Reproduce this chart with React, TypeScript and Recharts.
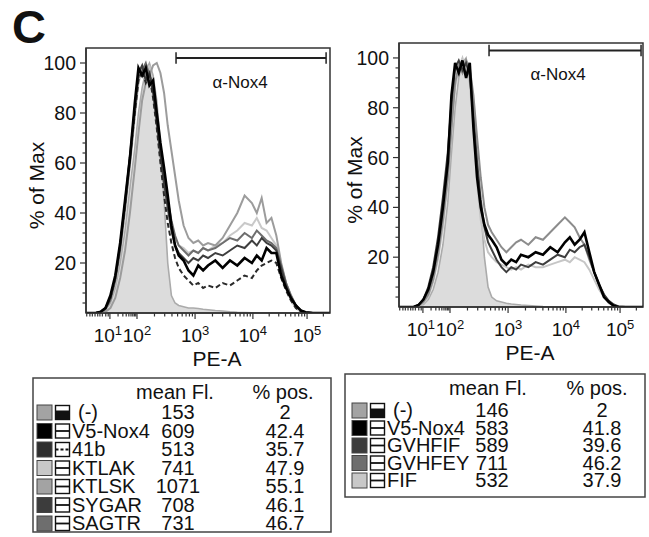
import React from 'react';
import { ComposedChart, Line, Area, XAxis, YAxis, ReferenceLine, ReferenceArea } from 'recharts';

const FONT = '"Liberation Sans", Arial, Helvetica, sans-serif';

// ---------- data ----------
const CHANNELS = [0, 40, 60, 80, 100, 120, 140, 160, 180, 200, 215, 230, 245, 260, 275, 290, 305, 320, 335, 350, 365, 380, 400, 420, 440, 460, 480, 500, 530, 560, 590, 620, 650, 680, 700, 720, 740, 760, 780, 800, 820, 840, 860, 880, 900, 930, 960, 1000];

const LEFT_NEG = [0, 0, 0.5, 1.5, 4, 10, 20, 33, 50, 66, 80, 90, 97, 100, 95, 85, 68, 45, 20, 7, 4, 3, 2.5, 2, 2, 1.8, 1.5, 1.3, 1, 0.8, 0.5, 0.3, 0.2, 0.1, 0, 0, 0, 0, 0, 0, 0, 0, 0, 0, 0, 0, 0, 0];
const LEFT_V5 = [0, 0, 0.5, 2, 7, 15, 28, 45, 62, 84, 98, 95, 98, 91, 93, 80, 68, 58, 47, 35, 27, 23, 21, 17, 15, 19, 17, 19, 21, 18, 21, 19, 22, 20, 23, 21, 26, 24, 24, 15, 10, 6, 3, 1, 0.3, 0, 0, 0];
const LEFT_41B = [0, 0, 0.5, 2, 6, 14, 27, 43, 62, 80, 93, 97, 92, 95, 86, 74, 60, 47, 36, 28, 22, 18, 15, 13, 11, 12, 10, 11, 10, 12, 11, 13, 15, 14, 17, 19, 20, 21, 20, 14, 9, 5, 2, 0.5, 0, 0, 0, 0];
const LEFT_KTLAK = [0, 0, 0.3, 1.5, 5, 12, 24, 40, 58, 78, 92, 97, 94, 99, 90, 78, 65, 55, 44, 36, 30, 27, 26, 24, 25, 24, 26, 25, 27, 28, 31, 33, 36, 35, 38, 34, 33, 30, 27, 18, 10, 5, 2, 0.5, 0, 0, 0, 0];
const LEFT_KTLSK = [0, 0, 0, 0.5, 2, 6, 14, 25, 40, 58, 72, 85, 92, 95, 99, 100, 96, 88, 75, 65, 55, 45, 35, 30, 28, 29, 27, 28, 27, 30, 35, 40, 47, 44, 40, 46, 36, 38, 31, 20, 12, 7, 3, 1, 0.3, 0, 0, 0];
const LEFT_SYGAR = [0, 0, 0.5, 2, 6, 14, 27, 44, 63, 82, 96, 99, 93, 96, 88, 76, 63, 52, 42, 33, 27, 24, 22, 20, 22, 21, 23, 22, 24, 23, 25, 27, 26, 29, 27, 30, 28, 27, 25, 18, 11, 6, 3, 1, 0.2, 0, 0, 0];
const LEFT_SAGTR = [0, 0, 0.3, 1.5, 5, 13, 25, 42, 60, 80, 94, 97, 100, 95, 92, 80, 66, 55, 45, 37, 31, 27, 25, 23, 25, 24, 26, 25, 26, 28, 30, 29, 32, 30, 33, 31, 29, 28, 26, 19, 12, 7, 3, 1, 0.2, 0, 0, 0];

const RIGHT_NEG = [0, 0, 0, 0.5, 1, 3, 7, 14, 25, 42, 62, 80, 92, 98, 100, 92, 78, 60, 40, 20, 8, 4, 2.5, 2, 1.5, 1.2, 1, 0.8, 0.6, 0.4, 0.2, 0.1, 0, 0, 0, 0, 0, 0, 0, 0, 0, 0, 0, 0, 0, 0, 0, 0];
const RIGHT_V5 = [0, 0, 0, 0.8, 3, 7, 14, 25, 40, 58, 85, 98, 94, 99, 92, 98, 72, 52, 40, 33, 29, 27, 24, 19, 17, 19, 18, 21, 20, 22, 21, 24, 22, 26, 28, 25, 27, 30, 22, 14, 9, 4, 2, 0.5, 0, 0, 0, 0];
const RIGHT_GVHFIF = [0, 0, 0, 0.8, 3, 8, 16, 28, 44, 62, 82, 96, 99, 95, 98, 93, 76, 58, 43, 32, 26, 23, 19, 16, 14, 16, 15, 17, 16, 18, 17, 19, 21, 20, 23, 22, 24, 25, 20, 14, 9, 5, 2.5, 1, 0.2, 0, 0, 0];
const RIGHT_GVHFEY = [0, 0, 0, 0.5, 2, 5, 11, 21, 35, 52, 72, 90, 97, 94, 99, 96, 85, 68, 52, 40, 33, 30, 27, 24, 22, 24, 26, 27, 25, 28, 27, 30, 33, 36, 34, 32, 28, 25, 19, 14, 9, 5, 2, 0.5, 0, 0, 0, 0];
const RIGHT_FIF = [0, 0, 0, 0.3, 1.5, 4, 10, 19, 32, 50, 70, 88, 96, 100, 95, 90, 72, 50, 35, 27, 22, 20, 18, 17, 16, 15, 16, 15, 17, 16, 16, 17, 18, 19, 18, 20, 19, 18, 15, 11, 7, 4, 1.5, 0.5, 0, 0, 0, 0];

// axis tick definitions (channel positions of decades on the biexponential scale)
const DECADE_CHANNELS = [98, 209, 447, 684, 906];
const DECADE_LABELS = ['1', '2', '3', '4', '5'];
const LOW_MINOR_CHANNELS = [3, 16, 26, 37, 48, 57, 67, 81, 91];
const Y_MAJOR = [20, 40, 60, 80, 100];
const Y_MINOR = [4, 8, 12, 16, 24, 28, 32, 36, 44, 48, 52, 56, 64, 68, 72, 76, 84, 88, 92, 96];

// gate
const GATE_FROM = 369;
const GATE_TO_LEFT = 984;
const GATE_TO_RIGHT = 992;
const GATE_LEVEL_LEFT = 102;
const GATE_LEVEL_RIGHT = 103;
const GATE_NAME = 'α-Nox4';

// legend tables
const LEFT_NAMES = ['(-)', 'V5-Nox4', '41b', 'KTLAK', 'KTLSK', 'SYGAR', 'SAGTR'];
const LEFT_MEAN = [153, 609, 513, 741, 1071, 708, 731];
const LEFT_POS = [2, 42.4, 35.7, 47.9, 55.1, 46.1, 46.7];
const RIGHT_NAMES = ['(-)', 'V5-Nox4', 'GVHFIF', 'GVHFEY', 'FIF'];
const RIGHT_MEAN = [146, 583, 589, 711, 532];
const RIGHT_POS = [2, 41.8, 39.6, 46.2, 37.9];

// ---------- styles ----------
const DECADE_LABEL_SHIFT = [-2, 0, 0, 0, 0];
const LEFT_SWATCH = ['#a3a3a3', '#000000', '#2e2e2e', '#c8c8c8', '#a3a3a3', '#3c3c3c', '#6e6e6e'];
const LEFT_ICON = ['fill', 'line', 'dash', 'line', 'line', 'line', 'line'];
const RIGHT_SWATCH = ['#a3a3a3', '#000000', '#3c3c3c', '#6e6e6e', '#c8c8c8'];
const RIGHT_ICON = ['fill', 'line', 'line', 'line', 'line'];

const minorX: number[] = [...LOW_MINOR_CHANNELS];
for (let i = 0; i < DECADE_CHANNELS.length; i++) {
  const a = DECADE_CHANNELS[i];
  const span = i < DECADE_CHANNELS.length - 1 ? DECADE_CHANNELS[i + 1] - a : 222;
  for (let k = 2; k <= 9; k++) {
    const p = a + Math.log10(k) * span;
    if (p <= 998) minorX.push(p);
  }
}
const X_TICKS = [...minorX, ...DECADE_CHANNELS].sort((a, b) => a - b);
const Y_TICKS = [...Y_MINOR, ...Y_MAJOR].sort((a, b) => a - b);

const leftData = CHANNELS.map((x, i) => ({
  x,
  neg: LEFT_NEG[i],
  v5: LEFT_V5[i],
  b41: LEFT_41B[i],
  ktlak: LEFT_KTLAK[i],
  ktlsk: LEFT_KTLSK[i],
  sygar: LEFT_SYGAR[i],
  sagtr: LEFT_SAGTR[i],
}));

const rightData = CHANNELS.map((x, i) => ({
  x,
  neg: RIGHT_NEG[i],
  v5: RIGHT_V5[i],
  gvhfif: RIGHT_GVHFIF[i],
  gvhfey: RIGHT_GVHFEY[i],
  fif: RIGHT_FIF[i],
}));

type SeriesDef = { key: string; color: string; width: number; dash?: string };

const LEFT_LINES: SeriesDef[] = [
  { key: 'ktlak', color: '#c9c9c9', width: 2 },
  { key: 'ktlsk', color: '#9c9c9c', width: 2 },
  { key: 'sagtr', color: '#6e6e6e', width: 2 },
  { key: 'sygar', color: '#3e3e3e', width: 2 },
  { key: 'b41', color: '#2a2a2a', width: 2, dash: '5 3' },
  { key: 'v5', color: '#000000', width: 2.6 },
];
const RIGHT_LINES: SeriesDef[] = [
  { key: 'fif', color: '#c6c6c6', width: 2 },
  { key: 'gvhfey', color: '#8c8c8c', width: 2 },
  { key: 'gvhfif', color: '#3e3e3e', width: 2 },
  { key: 'v5', color: '#000000', width: 2.6 },
];

const XTick = (props: any) => {
  const { x, y, payload } = props;
  const idx = DECADE_CHANNELS.indexOf(payload.value);
  const major = idx >= 0;
  return (
    <g>
      <line x1={x} x2={x} y1={y} y2={y + (major ? 6 : 3.5)} stroke="#333" strokeWidth={1.2} />
      {major && (
        <text x={x + DECADE_LABEL_SHIFT[idx]} y={y + 29} textAnchor="middle" fontSize={19} fill="#111" fontFamily={FONT}>
          10<tspan dy={-7} fontSize={13}>{DECADE_LABELS[idx]}</tspan>
        </text>
      )}
    </g>
  );
};

const YTick = (props: any) => {
  const { x, y, payload } = props;
  const major = Y_MAJOR.includes(payload.value);
  return (
    <g>
      <line x1={x} x2={x - (major ? 6 : 3.5)} y1={y} y2={y} stroke="#333" strokeWidth={1.2} />
      {major && (
        <text x={x - 10} y={y + 7} textAnchor="end" fontSize={19.5} fill="#111" fontFamily={FONT}>
          {payload.value}
        </text>
      )}
    </g>
  );
};

const makeYLabel = (dx: number) => (p: any) => {
  const vb = p.viewBox || { x: 0, y: 0, width: 86, height: 265 };
  const cx = vb.x + vb.width - dx;
  const cy = vb.y + vb.height * (1 - 51 / 106);
  return (
    <text x={cx} y={cy} transform={`rotate(-90 ${cx} ${cy})`} textAnchor="middle" fontSize={21} fill="#111" fontFamily={FONT}>
      % of Max
    </text>
  );
};

const xLabel = (p: any) => {
  const vb = p.viewBox || { x: 86, y: 313, width: 244, height: 67 };
  return (
    <text x={vb.x + vb.width / 2 + 9} y={vb.y + 53} textAnchor="middle" fontSize={21} fill="#111" fontFamily={FONT}>
      PE-A
    </text>
  );
};

const gateLabel = (dx: number) => (p: any) => {
  const vb = p.viewBox || { x: 0, y: 0, width: 0, height: 0 };
  return (
    <text x={vb.x + (vb.width || 0) / 2 + dx} y={vb.y + 30} textAnchor="middle" fontSize={17} fill="#111" fontFamily={FONT}>
      {GATE_NAME}
    </text>
  );
};

function Histogram(props: {
  data: any[];
  lines: SeriesDef[];
  width: number;
  top: number;
  bottom: number;
  right: number;
  yLabelDx: number;
  gateTo: number;
  gateLevel: number;
  gateDx: number;
}) {
  const { data, lines, width, top, bottom, right, yLabelDx, gateTo, gateLevel, gateDx } = props;
  const H = 380;
  return (
    <ComposedChart width={width} height={H} data={data} margin={{ top, right, left: 0, bottom: 0 }}>
      <XAxis
        type="number"
        dataKey="x"
        domain={[0, 1000]}
        ticks={X_TICKS}
        interval={0}
        tick={XTick}
        tickLine={false}
        tickSize={0}
        tickMargin={0}
        height={H - bottom}
        axisLine={{ stroke: '#333', strokeWidth: 1.5 }}
        allowDataOverflow
        label={xLabel}
      />
      <YAxis
        type="number"
        domain={[0, 106]}
        ticks={Y_TICKS}
        interval={0}
        tick={YTick}
        tickLine={false}
        tickSize={0}
        tickMargin={0}
        width={86}
        axisLine={{ stroke: '#333', strokeWidth: 1.5 }}
        allowDataOverflow
        label={makeYLabel(yLabelDx)}
      />
      <Area type="linear" dataKey="neg" fill="#dcdcdc" fillOpacity={1} stroke="#ababab" strokeWidth={1.6} isAnimationActive={false} dot={false} activeDot={false} />
      {lines.map((s) => (
        <Line
          key={s.key}
          type="linear"
          dataKey={s.key}
          stroke={s.color}
          strokeWidth={s.width}
          strokeDasharray={s.dash}
          dot={false}
          activeDot={false}
          isAnimationActive={false}
        />
      ))}
      <ReferenceLine
        segment={[{ x: GATE_FROM, y: gateLevel }, { x: gateTo, y: gateLevel }]}
        stroke="#222"
        strokeWidth={2}
        ifOverflow="visible"
        label={gateLabel(gateDx)}
      />
      <ReferenceLine segment={[{ x: GATE_FROM, y: gateLevel - 2.3 }, { x: GATE_FROM, y: gateLevel + 2.3 }]} stroke="#222" strokeWidth={1.5} ifOverflow="visible" />
      <ReferenceLine segment={[{ x: gateTo, y: gateLevel - 2.3 }, { x: gateTo, y: gateLevel + 2.3 }]} stroke="#222" strokeWidth={1.5} ifOverflow="visible" />
      <ReferenceArea x1={0} x2={1000} y1={0} y2={106} fill="none" fillOpacity={0} stroke="#333" strokeWidth={1.5} ifOverflow="visible" />
    </ComposedChart>
  );
}

function Icon({ kind, x, y }: { kind: string; x: number; y: number }) {
  const s = 14;
  if (kind === 'fill') {
    return (
      <g>
        <rect x={x} y={y} width={s} height={s} fill="#fff" stroke="#111" strokeWidth={1.4} />
        <rect x={x} y={y + 5} width={s} height={s - 5} fill="#111" />
      </g>
    );
  }
  return (
    <g>
      <rect x={x} y={y} width={s} height={s} fill="#fff" stroke="#111" strokeWidth={1.4} />
      <line x1={x} x2={x + s} y1={y + s / 2} y2={y + s / 2} stroke="#111" strokeWidth={1.8} strokeDasharray={kind === 'dash' ? '3 2' : undefined} />
    </g>
  );
}

function LegendTable(props: {
  box: [number, number, number, number];
  names: string[];
  means: number[];
  pos: number[];
  swatch: string[];
  icons: string[];
  row0: number;
  step: number;
  sw1: number;
  labelX: number;
  meanX: number;
  posX: number;
  hMeanX: number;
  hPosX: number;
}) {
  const { box, names, means, pos, swatch, icons, row0, step, sw1, labelX, meanX, posX, hMeanX, hPosX } = props;
  const hy = box[1] + 21;
  return (
    <g fontFamily={FONT} fill="#111">
      <rect x={box[0]} y={box[1]} width={box[2]} height={box[3]} fill="#fff" stroke="#444" strokeWidth={1.5} />
      <text x={hMeanX} y={hy} textAnchor="middle" fontSize={20}>mean Fl.</text>
      <text x={hPosX} y={hy} textAnchor="middle" fontSize={20}>% pos.</text>
      {names.map((n, i) => {
        const cy = row0 + i * step;
        return (
          <g key={n + i}>
            <rect x={sw1} y={cy - 7} width={15} height={15} fill={swatch[i]} stroke="#444" strokeWidth={1} />
            <Icon kind={icons[i]} x={sw1 + 18.5} y={cy - 6.5} />
            <text x={n === '(-)' ? labelX + 6 : labelX} y={cy + 7} fontSize={20}>{n}</text>
            <text x={meanX} y={cy + 7} textAnchor="middle" fontSize={20}>{means[i]}</text>
            <text x={posX} y={cy + 7} textAnchor="middle" fontSize={20}>{pos[i]}</text>
          </g>
        );
      })}
    </g>
  );
}

export default function App() {
  return (
    <div style={{ position: 'absolute', left: 0, top: 0, width: 649, height: 537, background: '#fff', overflow: 'hidden' }}>
      <svg width={649} height={537} style={{ position: 'absolute', left: 0, top: 0 }}>
        <text x={12} y={43} fontSize={47} fontWeight="bold" fontFamily={FONT} fill="#111">C</text>
        <LegendTable
          box={[33, 378, 298, 154]}
          names={LEFT_NAMES}
          means={LEFT_MEAN}
          pos={LEFT_POS}
          swatch={LEFT_SWATCH}
          icons={LEFT_ICON}
          row0={412}
          step={18.5}
          sw1={37}
          labelX={72}
          meanX={178}
          posX={285}
          hMeanX={175}
          hPosX={283}
        />
        <LegendTable
          box={[345, 374, 300, 123]}
          names={RIGHT_NAMES}
          means={RIGHT_MEAN}
          pos={RIGHT_POS}
          swatch={RIGHT_SWATCH}
          icons={RIGHT_ICON}
          row0={410}
          step={17.5}
          sw1={352}
          labelX={387}
          meanX={492}
          posX={602}
          hMeanX={488}
          hPosX={597}
        />
      </svg>
      <div style={{ position: 'absolute', left: 0, top: 0 }}>
        <Histogram data={leftData} lines={LEFT_LINES} width={340} top={48} bottom={313} right={10} yLabelDx={42} gateTo={GATE_TO_LEFT} gateLevel={GATE_LEVEL_LEFT} gateDx={-11} />
      </div>
      <div style={{ position: 'absolute', left: 313, top: 0 }}>
        <Histogram data={rightData} lines={RIGHT_LINES} width={336} top={43} bottom={307} right={6} yLabelDx={37} gateTo={GATE_TO_RIGHT} gateLevel={GATE_LEVEL_RIGHT} gateDx={-7} />
      </div>
    </div>
  );
}
